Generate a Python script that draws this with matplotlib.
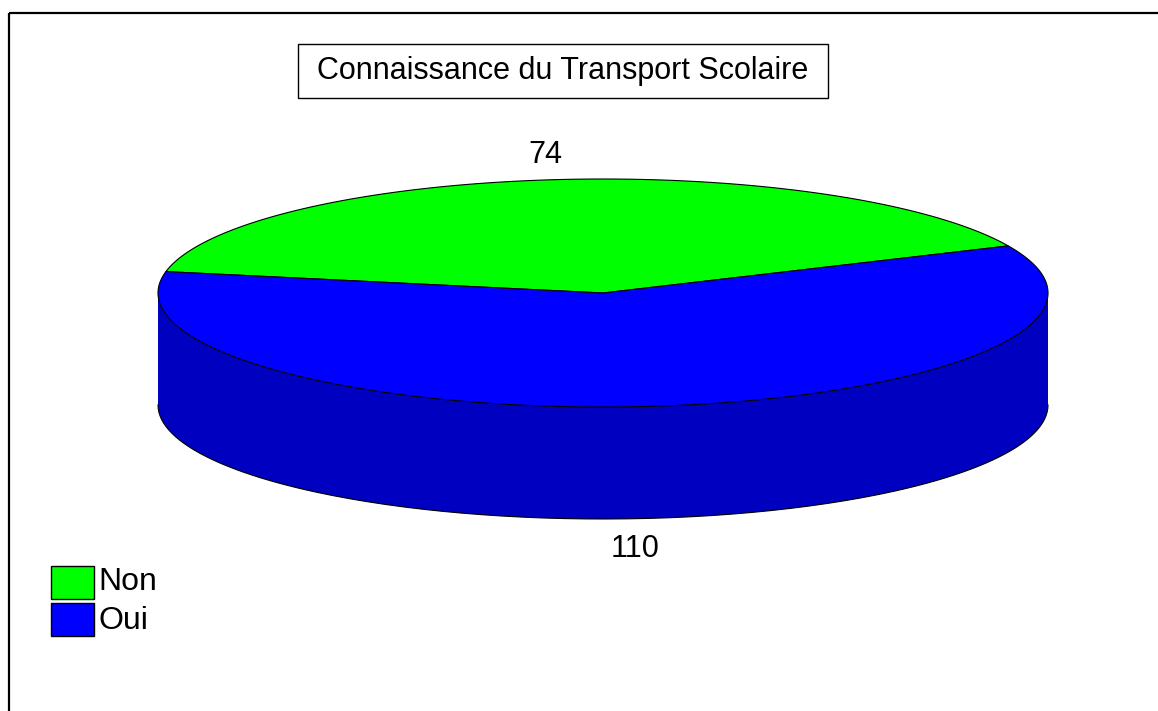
import numpy as np
import matplotlib
matplotlib.use("Agg")
import matplotlib.pyplot as plt
from matplotlib.patches import Polygon, Rectangle

# data
labels = ["Non", "Oui"]
values = [74, 110]
colors_top = ["#00ff00", "#0000ff"]
colors_side = ["#00c000", "#0000c0"]
title = "Connaissance du Transport Scolaire"

plt.rcParams['font.family'] = ['Liberation Sans', 'DejaVu Sans']

fig = plt.figure(figsize=(11.58, 7.11), dpi=100)
ax = fig.add_axes([0, 0, 1, 1])
ax.set_xlim(0, 1158)
ax.set_ylim(711, 0)
ax.axis('off')

# pie geometry (pixels)
cx, cy = 603, 293
rx, ry = 445, 114
depth = 112
start = 24.4


def pt(t, dy=0):
    r = np.radians(t)
    return cx + rx * np.cos(r), cy - ry * np.sin(r) + dy


# frame around the chart
ax.add_patch(Rectangle((9, 13), 1200, 750, fill=False, ec='black', lw=1.6))

total = sum(values)
angles = [start]
for v in values:
    angles.append(angles[-1] + 360.0 * v / total)

# side wall (front half only)
for i in range(len(values)):
    a0, a1 = angles[i], angles[i + 1]
    segs = []
    for k in range(-1, 2):
        lo = max(a0, 180 + 360 * k)
        hi = min(a1, 360 + 360 * k)
        if hi > lo:
            segs.append((lo, hi))
    for lo, hi in segs:
        ts = np.linspace(lo, hi, 200)
        top = [pt(t) for t in ts]
        bot = [pt(t, depth) for t in ts[::-1]]
        ax.add_patch(Polygon(top + bot, closed=True, fc=colors_side[i], ec='none'))
        ax.plot([p[0] for p in bot], [p[1] for p in bot], color='black', lw=0.8)

# top wedges
for i in range(len(values)):
    ts = np.linspace(angles[i], angles[i + 1], 300)
    verts = [(cx, cy)] + [pt(t) for t in ts]
    ax.add_patch(Polygon(verts, closed=True, fc=colors_top[i], ec='black', lw=0.8))

# value labels
for i, v in enumerate(values):
    mid = (angles[i] + angles[i + 1]) / 2
    r = np.radians(mid)
    if np.sin(r) > 0:
        x = cx + rx * 1.1 * np.cos(r)
        y = cy - ry * np.sin(r) - 25
    else:
        x = cx + rx * 0.6 * np.cos(r)
        y = cy - ry * np.sin(r) + depth + 31
    ax.text(x, y, str(v), fontsize=22, ha='center', va='center')

# title box
ax.add_patch(Rectangle((298, 44), 530, 54, fc='white', ec='black', lw=1.0))
ax.text(563, 71, title, fontsize=22, ha='center', va='center')

# legend
for i, lab in enumerate(labels):
    y0 = 566 + i * 37
    ax.add_patch(Rectangle((51, y0), 43, 33, fc=colors_top[i], ec='black', lw=1.0))
    ax.text(98, y0 + 16 + i * 2, lab, fontsize=23, ha='left', va='center')

fig.savefig("out.png", dpi=100)
